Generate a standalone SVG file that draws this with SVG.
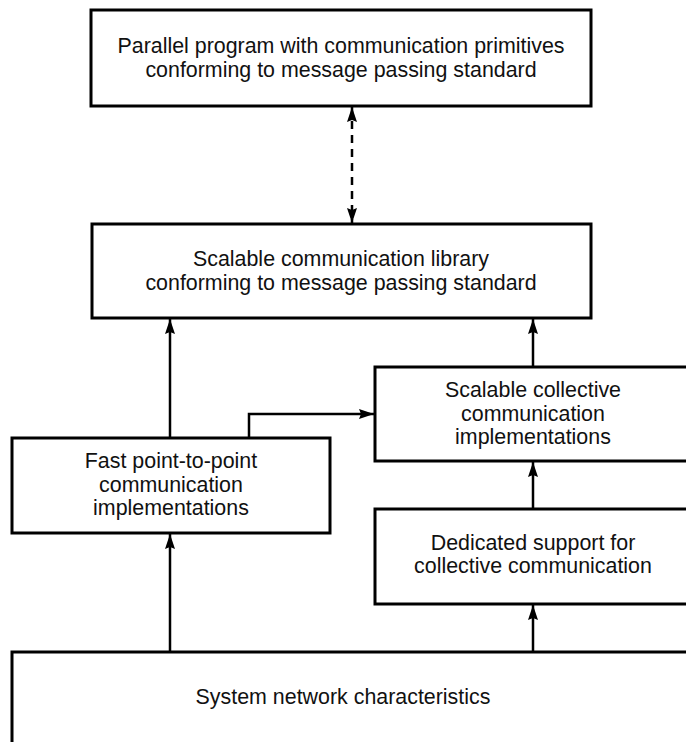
<svg xmlns="http://www.w3.org/2000/svg" width="686" height="742" viewBox="0 0 686 742">
<defs>
<marker id="ah" viewBox="0 0 15 10" refX="15" refY="5" markerWidth="15" markerHeight="10" markerUnits="userSpaceOnUse" orient="auto-start-reverse">
<path d="M0,0 L15,5 L0,10 L2,5 Z" fill="#000"/>
</marker>
<style>
.box{fill:#fff;stroke:#000;stroke-width:3}
.t{font-family:"Liberation Sans",Arial,Helvetica,sans-serif;font-size:21.4px;fill:#111;text-anchor:middle}
.c{fill:none;stroke:#000;stroke-width:2.5}
</style>
</defs>
<rect width="686" height="742" fill="#fff"/>
<g id="connectors">
<line class="c" x1="352" y1="107" x2="352" y2="223" stroke-dasharray="8,6" marker-start="url(#ah)" marker-end="url(#ah)"/>
<line class="c" x1="170" y1="438" x2="170" y2="319" marker-end="url(#ah)"/>
<line class="c" x1="533" y1="367" x2="533" y2="319" marker-end="url(#ah)"/>
<polyline class="c" points="249,438 249,414 374,414" marker-end="url(#ah)"/>
<line class="c" x1="533" y1="509" x2="533" y2="462" marker-end="url(#ah)"/>
<line class="c" x1="170" y1="652" x2="170" y2="534" marker-end="url(#ah)"/>
<line class="c" x1="533" y1="652" x2="533" y2="605" marker-end="url(#ah)"/>
</g>
<g id="parallel-program">
<rect class="box" x="91" y="10" width="500" height="96"/>
<text class="t" x="341" y="53">Parallel program with communication primitives</text>
<text class="t" x="341" y="77">conforming to message passing standard</text>
</g>
<g id="comm-library">
<rect class="box" x="92" y="224" width="499" height="94"/>
<text class="t" x="341" y="266">Scalable communication library</text>
<text class="t" x="341" y="290">conforming to message passing standard</text>
</g>
<g id="collective-impl">
<rect class="box" x="375" y="367" width="320" height="94"/>
<text class="t" x="533" y="397">Scalable collective</text>
<text class="t" x="533" y="421">communication</text>
<text class="t" x="533" y="444">implementations</text>
</g>
<g id="p2p-impl">
<rect class="box" x="12" y="438" width="318" height="95"/>
<text class="t" x="171" y="468">Fast point-to-point</text>
<text class="t" x="171" y="492">communication</text>
<text class="t" x="171" y="515">implementations</text>
</g>
<g id="dedicated-support">
<rect class="box" x="375" y="509" width="320" height="95"/>
<text class="t" x="533" y="550">Dedicated support for</text>
<text class="t" x="533" y="573">collective communication</text>
</g>
<g id="system-network">
<rect class="box" x="12" y="652" width="690" height="100"/>
<text class="t" x="343" y="704">System network characteristics</text>
</g>
</svg>
